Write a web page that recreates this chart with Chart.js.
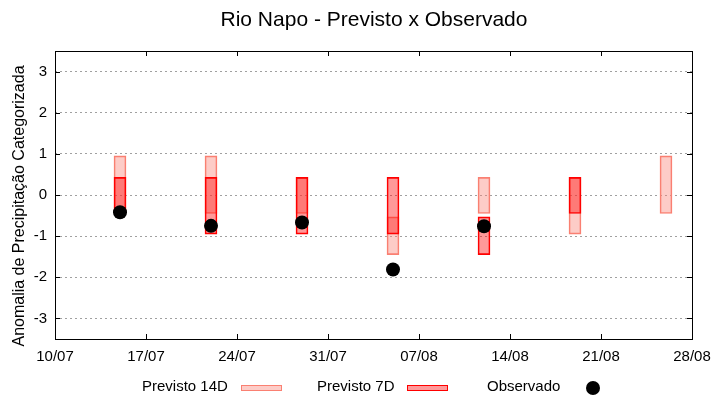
<!DOCTYPE html>
<html>
<head>
<meta charset="utf-8">
<script src="https://cdn.jsdelivr.net/npm/chart.js@4/dist/chart.umd.min.js"></script>
<style>
  body { margin: 0; background: #fff; }
  #box { width: 720px; height: 400px; }
</style>
</head>
<body>
<div id="box"><canvas id="graficoNapo"></canvas></div>
<script>
// datas das previsões (dia/mês)
const datas = ['15/07', '22/07', '29/07', '05/08', '12/08', '19/08', '26/08'];

// faixas previstas (limite inferior / superior)
const prev14Min = [-0.45, -0.45, -0.45, -1.45, -0.45, -0.95, -0.45];
const prev14Max = [0.95, 0.95, 0.43, -0.53, 0.43, 0.43, 0.95];
const prev7Min = [-0.45, -0.95, -0.95, -0.95, -1.45, -0.45, null];
const prev7Max = [0.43, 0.43, 0.43, 0.43, -0.53, 0.43, null];

// anomalia observada
const observado = [-0.42, -0.75, -0.67, -1.81, -0.76, null, null];

// eixos
const rotulosX = ['10/07', '17/07', '24/07', '31/07', '07/08', '14/08', '21/08', '28/08'];
const ticksY = [-3, -2, -1, 0, 1, 2, 3];

const titulo = 'Rio Napo - Previsto x Observado';
const tituloY = 'Anomalia de Precipitação Categorizada';

const fonte = "'Liberation Sans', Arial, sans-serif";

// converte dd/mm em dias a partir do primeiro rótulo
function dias(d) {
    const [dd, mm] = d.split('/').map(Number);
    const [d0, m0] = rotulosX[0].split('/').map(Number);
    return Math.round((Date.UTC(2023, mm - 1, dd) - Date.UTC(2023, m0 - 1, d0)) / 86400000);
}

const cor14 = 'rgba(250, 128, 114, 0.4)';
const cor7 = 'rgba(255, 0, 0, 0.4)';

const faixa = (mins, maxs) => datas.map((d, i) =>
    mins[i] == null ? null : { x: dias(d), y: [mins[i], maxs[i]] }).filter(p => p);

// moldura com ticks para dentro, estilo gnuplot
const moldura = {
    id: 'moldura',
    afterDatasetsDraw(chart) {
        const { ctx, chartArea: a, scales } = chart;
        ctx.save();
        ctx.strokeStyle = '#000';
        ctx.lineWidth = 1;
        ctx.strokeRect(a.left + 0.5, a.top + 0.5, a.right - a.left, a.bottom - a.top);
        ctx.beginPath();
        rotulosX.forEach((r, i) => {
            const x = Math.round(scales.x.getPixelForValue(i * 7)) + 0.5;
            ctx.moveTo(x, a.bottom); ctx.lineTo(x, a.bottom - 5);
            ctx.moveTo(x, a.top); ctx.lineTo(x, a.top + 5);
        });
        ticksY.forEach(v => {
            const y = Math.round(scales.y.getPixelForValue(v)) + 0.5;
            ctx.moveTo(a.left, y); ctx.lineTo(a.left + 5, y);
            ctx.moveTo(a.right, y); ctx.lineTo(a.right - 5, y);
        });
        ctx.stroke();
        ctx.restore();
    },
    afterDraw(chart) {
        const ctx = chart.ctx;
        ctx.save();
        ctx.fillStyle = '#000';
        ctx.textBaseline = 'middle';
        ctx.textAlign = 'center';
        // título
        ctx.font = '21px ' + fonte;
        ctx.fillText(titulo, 374, 20);
        // título do eixo y
        ctx.save();
        ctx.translate(20, 206);
        ctx.rotate(-Math.PI / 2);
        ctx.font = '16px ' + fonte;
        ctx.fillText(tituloY, 0, 0);
        ctx.restore();
        // legenda embaixo: texto e depois a amostra
        ctx.font = '15px ' + fonte;
        ctx.textAlign = 'left';
        ctx.fillText('Previsto 14D', 142, 387);
        ctx.fillText('Previsto 7D', 317, 387);
        ctx.fillText('Observado', 487, 387);
        ctx.fillStyle = cor14;
        ctx.fillRect(241, 385, 41, 6);
        ctx.strokeStyle = 'salmon';
        ctx.strokeRect(241.5, 385.5, 40, 5);
        ctx.fillStyle = cor7;
        ctx.fillRect(407, 385, 41, 6);
        ctx.strokeStyle = 'red';
        ctx.strokeRect(407.5, 385.5, 40, 5);
        ctx.fillStyle = '#000';
        ctx.beginPath();
        ctx.arc(593, 388, 7, 0, Math.PI * 2);
        ctx.fill();
        ctx.restore();
    }
};

new Chart(document.getElementById('graficoNapo'), {
    type: 'bar',
    data: {
        datasets: [
            {
                type: 'scatter',
                label: 'Observado',
                data: datas.map((d, i) => observado[i] == null ? null : { x: dias(d), y: observado[i] }).filter(p => p),
                backgroundColor: '#000',
                borderWidth: 0,
                pointRadius: 7,
                order: 0
            },
            {
                label: 'Previsto 7D',
                data: faixa(prev7Min, prev7Max),
                backgroundColor: cor7,
                borderColor: 'red',
                borderWidth: 1,
                borderSkipped: false,
                barThickness: 12,
                grouped: false,
                order: 1
            },
            {
                label: 'Previsto 14D',
                data: faixa(prev14Min, prev14Max),
                backgroundColor: cor14,
                borderColor: 'salmon',
                borderWidth: 1,
                borderSkipped: false,
                barThickness: 12,
                grouped: false,
                order: 2
            }
        ]
    },
    options: {
        responsive: true,
        maintainAspectRatio: false,
        animation: false,
        layout: { padding: { left: 0, right: 28, top: 51, bottom: 0 } },
        plugins: {
            legend: { display: false },
            tooltip: { enabled: false },
            title: { display: false }
        },
        scales: {
            x: {
                type: 'linear',
                offset: false,
                min: 0,
                max: (rotulosX.length - 1) * 7,
                afterBuildTicks: s => { s.ticks = rotulosX.map((r, i) => ({ value: i * 7 })); },
                afterFit: s => { s.height = 61; },
                grid: { display: false },
                border: { display: false },
                ticks: {
                    color: '#000',
                    padding: 1,
                    maxRotation: 0,
                    font: { family: fonte, size: 15 },
                    callback: v => rotulosX[Math.round(v / 7)]
                }
            },
            y: {
                min: -3.5,
                max: 3.5,
                afterBuildTicks: s => { s.ticks = ticksY.map(v => ({ value: v })); },
                afterFit: s => { s.width = 55; },
                grid: { color: '#a0a0a0', lineWidth: 1, drawTicks: false },
                border: { display: false, dash: [2, 3] },
                ticks: {
                    color: '#000',
                    padding: 8,
                    font: { family: fonte, size: 15 }
                }
            }
        }
    },
    plugins: [moldura]
});
</script>
</body>
</html>
